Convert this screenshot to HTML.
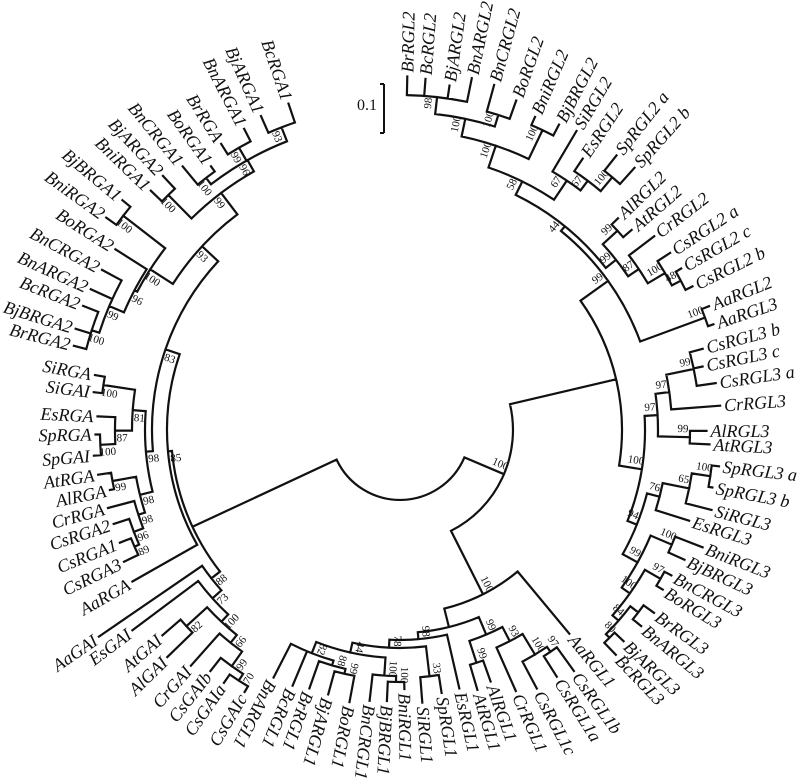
<!DOCTYPE html>
<html><head><meta charset="utf-8">
<style>
html,body{margin:0;padding:0;background:#fff;}
svg{display:block;}
.lf{font-family:"Liberation Serif",serif;font-style:italic;font-size:18px;fill:#111;}
.bs{font-family:"Liberation Serif",serif;font-size:11px;fill:#111;}
</style></head>
<body>
<svg id="s" width="800" height="783" viewBox="0 0 800 783" xmlns="http://www.w3.org/2000/svg">
<g id="lines" fill="none" stroke="#111" stroke-width="2.2" stroke-linecap="square"></g>
<g id="labels">
<text class="lf" x="277" y="70">BcRGA1</text>
<text class="lf" x="245" y="80">BjARGA1</text>
<text class="lf" x="225" y="92">BnARGA1</text>
<text class="lf" x="205" y="118">BrRGA</text>
<text class="lf" x="190" y="137">BoRGA1</text>
<text class="lf" x="156" y="134">BnCRGA1</text>
<text class="lf" x="136" y="147">BjARGA2</text>
<text class="lf" x="123" y="164">BniRGA1</text>
<text class="lf" x="92" y="175">BjBRGA1</text>
<text class="lf" x="75" y="195">BniRGA2</text>
<text class="lf" x="85" y="230">BoRGA2</text>
<text class="lf" x="65" y="250">BnCRGA2</text>
<text class="lf" x="53" y="272">BnARGA2</text>
<text class="lf" x="50" y="293">BcRGA2</text>
<text class="lf" x="38" y="317">BjBRGA2</text>
<text class="lf" x="40" y="337">BrRGA2</text>
<text class="lf" x="67" y="370">SiRGA</text>
<text class="lf" x="68" y="389">SiGAI</text>
<text class="lf" x="67" y="415">EsRGA</text>
<text class="lf" x="65" y="435">SpRGA</text>
<text class="lf" x="66" y="458">SpGAI</text>
<text class="lf" x="69" y="479">AtRGA</text>
<text class="lf" x="81" y="496">AlRGA</text>
<text class="lf" x="78" y="516">CrRGA</text>
<text class="lf" x="80" y="535">CsRGA2</text>
<text class="lf" x="87" y="556">CsRGA1</text>
<text class="lf" x="92" y="577">CsRGA3</text>
<text class="lf" x="105" y="597">AaRGA</text>
<text class="lf" x="75" y="653">AaGAI</text>
<text class="lf" x="110" y="647">EsGAI</text>
<text class="lf" x="142" y="653">AtGAI</text>
<text class="lf" x="148" y="676">AlGAI</text>
<text class="lf" x="172" y="687">CrGAI</text>
<text class="lf" x="190" y="697">CsGAIb</text>
<text class="lf" x="205" y="710">CsGAIa</text>
<text class="lf" x="228" y="720">CsGAIc</text>
<text class="lf" x="255" y="714">BnARGL1</text>
<text class="lf" x="279" y="718">BcRGL1</text>
<text class="lf" x="298" y="721">BrRGL1</text>
<text class="lf" x="318" y="732">BjARGL1</text>
<text class="lf" x="343" y="737">BoRGL1</text>
<text class="lf" x="365" y="742">BnCRGL1</text>
<text class="lf" x="385" y="740">BjBRGL1</text>
<text class="lf" x="405" y="727">BniRGL1</text>
<text class="lf" x="425" y="735">SiRGL1</text>
<text class="lf" x="447" y="727">SpRGL1</text>
<text class="lf" x="467" y="722">EsRGL1</text>
<text class="lf" x="487" y="722">AtRGL1</text>
<text class="lf" x="502" y="713">AlRGL1</text>
<text class="lf" x="530" y="723">CrRGL1</text>
<text class="lf" x="555" y="723">CsRGL1c</text>
<text class="lf" x="578" y="710">CsRGL1a</text>
<text class="lf" x="597" y="703">CsRGL1b</text>
<text class="lf" x="592" y="661">AaRGL1</text>
<text class="lf" x="640" y="680">BcRGL3</text>
<text class="lf" x="652" y="668">BjARGL3</text>
<text class="lf" x="673" y="652">BnARGL3</text>
<text class="lf" x="682" y="633">BrRGL3</text>
<text class="lf" x="693" y="608">BoRGL3</text>
<text class="lf" x="708" y="595">BnCRGL3</text>
<text class="lf" x="720" y="576">BjBRGL3</text>
<text class="lf" x="738" y="561">BniRGL3</text>
<text class="lf" x="722" y="531">EsRGL3</text>
<text class="lf" x="743" y="518">SiRGL3</text>
<text class="lf" x="753" y="495">SpRGL3 b</text>
<text class="lf" x="760" y="471">SpRGL3 a</text>
<text class="lf" x="743" y="446">AtRGL3</text>
<text class="lf" x="740" y="431">AlRGL3</text>
<text class="lf" x="755" y="403">CrRGL3</text>
<text class="lf" x="757" y="377">CsRGL3 a</text>
<text class="lf" x="743" y="358">CsRGL3 c</text>
<text class="lf" x="743" y="338">CsRGL3 b</text>
<text class="lf" x="747" y="313">AaRGL3</text>
<text class="lf" x="742" y="293">AaRGL2</text>
<text class="lf" x="730" y="268">CsRGL2 b</text>
<text class="lf" x="717" y="248">CsRGL2 c</text>
<text class="lf" x="705" y="230">CsRGL2 a</text>
<text class="lf" x="682" y="215">CrRGL2</text>
<text class="lf" x="657" y="208">AtRGL2</text>
<text class="lf" x="642" y="195">AlRGL2</text>
<text class="lf" x="662" y="137">SpRGL2 b</text>
<text class="lf" x="642" y="123">SpRGL2 a</text>
<text class="lf" x="602" y="130">EsRGL2</text>
<text class="lf" x="593" y="103">SiRGL2</text>
<text class="lf" x="577" y="90">BjBRGL2</text>
<text class="lf" x="550" y="82">BniRGL2</text>
<text class="lf" x="528" y="67">BoRGL2</text>
<text class="lf" x="505" y="45">BnCRGL2</text>
<text class="lf" x="480" y="38">BnARGL2</text>
<text class="lf" x="455" y="47">BjARGL2</text>
<text class="lf" x="428" y="44">BcRGL2</text>
<text class="lf" x="408" y="42">BrRGL2</text>
</g>
<g id="boot"></g>
<line x1="384" y1="84" x2="384" y2="133" stroke="#111" stroke-width="2"/>
<line x1="380" y1="84" x2="384" y2="84" stroke="#111" stroke-width="2"/>
<line x1="380" y1="133" x2="384" y2="133" stroke="#111" stroke-width="2"/>
<text x="357" y="110" style="font-family:'Liberation Serif',serif;font-size:16px;fill:#111;">0.1</text>
</svg>
<script>
(function(){
var CX=400,CY=430,NS="http://www.w3.org/2000/svg";
function ang(x,y){var a=Math.atan2(y-CY,x-CX)*180/Math.PI;if(a<-95)a+=360;return a;}
function P(r,a){var t=a*Math.PI/180;return [CX+r*Math.cos(t),CY+r*Math.sin(t)];}
function rot(a){return (a>118)?a+180:a;}
var leaf={};
var ts=document.querySelectorAll('text.lf');
for(var i=0;i<ts.length;i++){
 var t=ts[i];var x=+t.getAttribute('x'),y=+t.getAttribute('y');
 t.setAttribute('text-anchor','middle');t.setAttribute('dominant-baseline','central');
 var a=ang(x,y);t.setAttribute('transform','rotate('+rot(a)+' '+x+' '+y+')');
 var len=140;try{len=t.getComputedTextLength();}catch(e){}
 var d=Math.sqrt((x-CX)*(x-CX)+(y-CY)*(y-CY));
 leaf[t.textContent.replace(/\s+/g,'')]={a:a,r:d-len/2-4};
}
function N(r,b,c,at){return {r:r,b:b,c:c,at:at};}
var C=N(222,null,[
 N(256,99,[
  N(262,44,[
   N(277,58,[
    N(300,100,[ N(318,100,[N(335,98,['BrRGL2','BcRGL2','BjARGL2','BnARGL2']),N(330,100,['BnCRGL2','BoRGL2'])]), N(332,100,['BniRGL2','BjBRGL2']) ]),
    N(300,67,['SiRGL2', N(312,67,['EsRGL2', N(330,100,['SpRGL2a','SpRGL2b'])])])
   ]),
   N(275,99,[ N(295,99,['AlRGL2','AtRGL2']), N(288,87,['CrRGL2', N(308,100,['CsRGL2a', N(318,48,['CsRGL2c','CsRGL2b'])])]) ])
  ]),
  N(325,100,['AaRGL2','AaRGL3'])
 ]),
 N(245,100,[
  N(258,97,[ N(272,97,[N(300,99,['CsRGL3b','CsRGL3c','CsRGL3a']),'CrRGL3']), N(290,99,['AlRGL3','AtRGL3']) ]),
  N(255,94,[
   N(268,76,[ N(295,65,[N(320,100,['SpRGL3a','SpRGL3b']),'SiRGL3']), 'EsRGL3' ]),
   N(272,99,[ N(295,100,['BniRGL3','BjBRGL3']), N(282,100,[ N(300,97,['BnCRGL3','BoRGL3']), N(290,84,[ N(300,null,['BrRGL3','BnARGL3']), N(295,80,['BjARGL3','BcRGL3']) ]) ]) ])
  ])
 ])
]);
var D=N(184,100,[
 N(203,null,[
  N(210,98,[
   N(218,78,[
    N(228,44,[
     N(240,82,['BnARGL1','BcRGL1', N(245,88,['BrRGL1', N(250,99,['BjARGL1','BoRGL1'])])]),
     N(246,100,['BnCRGL1', N(252,100,['BjBRGL1','BniRGL1'])])
    ]),
    N(248,33,['SiRGL1','SpRGL1'])
   ]),
   'EsRGL1'
  ]),
  N(222,99,[ N(245,99,['AtRGL1','AlRGL1']), N(238,93,['CrRGL1', N(262,100,['CsRGL1c', N(268,97,['CsRGL1a','CsRGL1b'])])]) ])
 ]),
 'AaRGL1'
]);
var A=N(229,null,[
 N(233,85,[
  N(248,83,[
   N(270,93,[
    N(297,99,[ N(310,96,[N(325,93,['BcRGA1','BjARGA1']),N(325,99,['BnARGA1','BrRGA']),N(318,100,['BoRGA1','BnCRGA1'])]), N(330,100,['BjARGA2','BniRGA1']) ]),
    N(297,100,[ N(350,100,['BjBRGA1','BniRGA2']), N(300,96,['BoRGA2', N(316,99,['BnCRGA2','BnARGA2', N(324,100,['BcRGA2','BjBRGA2','BrRGA2'])])]) ])
   ]),
   N(255,98,[
    N(268,81,[ N(300,100,['SiRGA','SiGAI']), N(285,87,['EsRGA', N(300,100,['SpRGA','SpGAI'])]) ]),
    N(268,98,[ N(292,99,['AtRGA','AlRGA']), N(275,98,['CrRGA', N(285,96,['CsRGA2', N(290,89,['CsRGA1','CsRGA3'])])]) ])
   ])
  ]),
  'AaRGA'
 ]),
 N(240,88,[ 'AaGAI', N(252,73,['EsGAI', N(262,100,[ N(290,82,['AtGAI','AlGAI']), N(272,66,['CrGAI', N(290,99,['CsGAIb', N(298,70,['CsGAIa','CsGAIc'])])]) ])]) ])
],155);
var B=N(113,100,[C,D],23);
var ROOT=N(70,null,[A,B]);
var d="";var boot=document.getElementById('boot');
function minTip(n){ if(typeof n==='string'){return (leaf[n]||{r:300}).r;} var m=Infinity; n.c.forEach(function(c){m=Math.min(m,minTip(c));}); return m; }
function info(n){ if(typeof n==='string'){var L=leaf[n]||{a:0,r:300};return {a:L.a,r:L.r};} return {a:layout(n),r:n.r}; }
function layout(n){
 if(typeof n!=='string'){var mt=minTip(n); if(n.r>mt-4) n.r=mt-4;}
 var kids=n.c.map(info);
 var mn=Infinity,mx=-Infinity;
 kids.forEach(function(k){mn=Math.min(mn,k.a);mx=Math.max(mx,k.a);});
 var at=(n.at!==undefined)?n.at:(mn+mx)/2;
 n._a=at;
 mn=Math.min(mn,at);mx=Math.max(mx,at);
 kids.forEach(function(k){
  if(k.r>n.r){var p1=P(n.r,k.a),p2=P(k.r,k.a);d+="M"+p1[0].toFixed(1)+" "+p1[1].toFixed(1)+"L"+p2[0].toFixed(1)+" "+p2[1].toFixed(1);}
 });
 var s=P(n.r,mn),e=P(n.r,mx);
 d+="M"+s[0].toFixed(1)+" "+s[1].toFixed(1)+"A"+n.r+" "+n.r+" 0 "+((mx-mn)>180?1:0)+" 1 "+e[0].toFixed(1)+" "+e[1].toFixed(1);
 if(n.b!==null&&n.b!==undefined){
  var off=8/n.r*180/Math.PI;var q=P(n.r-7,at-off);
  var t=document.createElementNS(NS,'text');t.setAttribute('class','bs');
  t.setAttribute('x',q[0].toFixed(1));t.setAttribute('y',q[1].toFixed(1));
  t.setAttribute('text-anchor','middle');t.setAttribute('dominant-baseline','central');
  t.setAttribute('transform','rotate('+rot(at).toFixed(1)+' '+q[0].toFixed(1)+' '+q[1].toFixed(1)+')');
  t.textContent=n.b;boot.appendChild(t);
 }
 return at;
}
layout(ROOT);
var path=document.createElementNS(NS,'path');path.setAttribute('d',d);
document.getElementById('lines').appendChild(path);
})();
</script>
</body></html>
